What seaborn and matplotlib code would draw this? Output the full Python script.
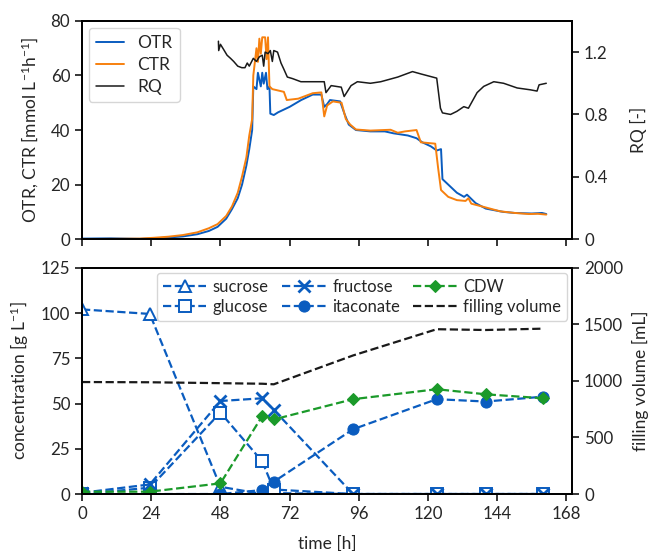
import numpy as np
import matplotlib
matplotlib.use('Agg')
import matplotlib.pyplot as plt
import seaborn as sns

sns.set_style('ticks')
plt.rcParams['font.family'] = ['Lato', 'DejaVu Sans']
plt.rcParams['mathtext.default'] = 'regular'
plt.rcParams['font.size'] = 12.5

# online off-gas data (top panel)
t_otr = [0, 10, 20, 25, 30, 35, 40, 44, 47, 50, 52, 54, 55.5, 57, 58, 59, 59.4, 60.5, 61, 62, 62.5, 63,
         63.8, 64.3, 65, 65.3, 66.5, 68, 72, 76, 80, 83, 84, 85, 86, 89.5, 91, 92.5, 95, 100, 105, 108,
         113, 116, 118, 121, 123, 124.5, 125, 127, 130, 132.5, 133.5, 136.5, 140, 146, 150, 156, 159.5, 161]
otr = [0.2, 0.3, 0.1, 0.3, 0.6, 1.0, 1.8, 3.0, 4.5, 7.5, 11, 15, 20, 27, 33, 40, 56, 55, 61, 56, 61, 57,
       61, 55, 56, 46, 45.5, 46.5, 48.5, 51, 53, 53, 48.5, 49.5, 51, 50.5, 46, 42, 40, 39.5, 39.5, 38.8,
       38, 37, 35.5, 34, 32.5, 33, 22, 20, 17, 15.5, 16.3, 13.2, 11.2, 10, 9.6, 9.4, 9.6, 9.2]

t_ctr = [0, 10, 20, 25, 30, 35, 40, 44, 47, 50, 52, 54, 55.5, 57, 58, 59, 59.4, 60.5, 61, 61.5, 62, 62.5,
         63.5, 64, 64.5, 65, 66, 68, 70, 71, 75, 80, 83, 84, 85, 87, 90, 91.5, 93, 95, 100, 107, 109.5,
         112, 116, 117.5, 122.5, 123.5, 124.5, 127, 130, 133, 134, 135, 139, 145, 150, 155, 158, 161]
ctr = [0.0, 0.1, 0.2, 0.5, 0.9, 1.5, 2.5, 4, 5.5, 8.5, 12, 17, 23, 30, 38, 44, 60, 70, 65, 73.5, 68, 74,
       74, 66, 74, 56, 55, 54.5, 54, 51, 51.5, 53.5, 53.8, 45, 49, 50.5, 50, 44, 42, 40.2, 39.8, 40.1, 39,
       39.5, 40, 35.5, 35, 26, 18, 15.5, 14.3, 14, 15, 13, 11.9, 10.2, 9.6, 9.2, 9.3, 9.0]

t_rq = [47.3, 47.4, 48, 49, 50.3, 51.5, 52.6, 54, 55.4, 56.5, 57.3, 58, 59.4, 60.5, 61.5, 62.5, 63, 63.5,
        64.5, 65.3, 66, 66.5, 67.8, 69, 70, 71.2, 73, 75.9, 80, 84, 84.6, 86.4, 89.9, 90.9, 93.3, 95.5, 100,
        103.6, 109.5, 114.6, 117.5, 123, 124.3, 125, 127.8, 130, 132.4, 134, 137, 139.3, 142.8, 146.2,
        150.9, 155.5, 157.8, 158.5, 161]
rq = [1.27, 1.21, 1.25, 1.22, 1.18, 1.16, 1.14, 1.11, 1.10, 1.10, 1.13, 1.11, 1.16, 1.14, 1.17, 1.18, 1.11,
      1.20, 1.19, 1.21, 1.14, 1.21, 1.20, 1.13, 1.09, 1.04, 1.03, 1.01, 1.01, 1.01, 0.94, 0.985, 0.975,
      0.915, 0.985, 1.01, 1.0, 1.01, 1.04, 1.075, 1.06, 1.033, 0.84, 0.81, 0.80, 0.82, 0.85, 0.84, 0.94,
      0.98, 1.01, 1.0, 0.97, 0.958, 0.95, 0.99, 1.0]

# offline samples (bottom panel)
t_s = [0, 23.5, 48, 62.5, 66.5, 94, 123, 140, 160]
sucrose = [102, 99.5, 4, 0, 0.5, 0, 0, 0, 0]
glucose = [0, 3.5, 45, 18, 2.5, 0, 0, 0, 0]
fructose = [0.7, 5.3, 51.4, 52.9, 46.5, 0, 0, 0, 0]
itaconate = [0, 0, 0, 2.2, 6.8, 35.8, 52.4, 51.1, 53.8]
cdw = [1.3, 1.3, 5.9, 43.1, 41.2, 52.4, 57.9, 55.1, 52.9]
volume = [990, 988, 980, 975, 970, 1225, 1457, 1450, 1462]

blue = '#0a5cbf'
orange = '#f7800e'
green = '#1b9a2a'

fig = plt.figure(figsize=(6.51, 5.51), dpi=100)
ax1 = fig.add_axes([0.126, 0.566, 0.753, 0.396])
ax2 = fig.add_axes([0.126, 0.1034, 0.753, 0.4106])

# --- top: OTR, CTR, RQ
sns.lineplot(x=t_otr, y=otr, ax=ax1, color=blue, lw=1.4, label='OTR', estimator=None)
sns.lineplot(x=t_ctr, y=ctr, ax=ax1, color=orange, lw=1.4, label='CTR', estimator=None)
ax1r = ax1.twinx()
sns.lineplot(x=t_rq, y=rq, ax=ax1r, color='#1a1a1a', lw=1.1, label='RQ', estimator=None)
ax1.set_xlim(0, 170)
ax1.set_ylim(0, 80)
ax1.set_yticks([0, 20, 40, 60, 80])
ax1.set_xticks(range(0, 169, 24))
ax1.set_xticklabels([])
ax1r.set_ylim(0, 1.4)
ax1r.set_yticks([0, 0.4, 0.8, 1.2])
ax1r.set_yticklabels(['0', '0.4', '0.8', '1.2'])
ax1.set_ylabel('OTR, CTR [mmol L$^{-1}$h$^{-1}$]', labelpad=7)
ax1r.set_ylabel('RQ [-]', labelpad=16)
ax1.get_legend().remove()
h1, l1 = ax1.get_legend_handles_labels()
h2, l2 = ax1r.get_legend_handles_labels()
ax1r.legend(h1 + h2, l1 + l2, loc='upper left', handlelength=1.6, borderaxespad=0.4,
            fontsize=12.5, labelspacing=0.35)

# --- bottom: concentrations and filling volume
dash = dict(ls='--', lw=1.6, estimator=None, markersize=8)
sns.lineplot(x=t_s, y=sucrose, ax=ax2, color=blue, marker='^', mfc='white', mec=blue, mew=1.4,
             label='sucrose', **dash)
sns.lineplot(x=t_s, y=glucose, ax=ax2, color=blue, marker='s', mfc='white', mec=blue, mew=1.4,
             label='glucose', **dash)
sns.lineplot(x=t_s, y=fructose, ax=ax2, color=blue, marker='x', mec=blue, mew=2,
             label='fructose', **dash)
sns.lineplot(x=t_s, y=itaconate, ax=ax2, color=blue, marker='o', mfc=blue, mec=blue,
             label='itaconate', **dash)
sns.lineplot(x=t_s, y=cdw, ax=ax2, color=green, marker='D', mfc=green, mec=green,
             label='CDW', ls='--', lw=1.6, estimator=None, markersize=6.5)
ax2r = ax2.twinx()
sns.lineplot(x=t_s, y=volume, ax=ax2r, color='#1a1a1a', ls='--', lw=1.6, label='filling volume',
             estimator=None)
ax2.set_xlim(0, 170)
ax2.set_ylim(0, 125)
ax2.set_yticks([0, 25, 50, 75, 100, 125])
ax2.set_xticks(range(0, 169, 24))
ax2r.set_ylim(0, 2000)
ax2r.set_yticks([0, 500, 1000, 1500, 2000])
ax2.set_xlabel('time [h]', labelpad=10)
ax2.set_ylabel('concentration [g L$^{-1}$]', labelpad=7)
ax2r.set_ylabel('filling volume [mL]', labelpad=6)
ax2.get_legend().remove()
h1, l1 = ax2.get_legend_handles_labels()
h2, l2 = ax2r.get_legend_handles_labels()
ax2r.legend(h1 + h2, l1 + l2, loc='upper right', ncol=3, handlelength=2.6, columnspacing=0.8,
            handletextpad=0.4, borderaxespad=0.3, labelspacing=0.25, fontsize=12,
            borderpad=0.35)

for ax in (ax1, ax1r, ax2, ax2r):
    for s in ax.spines.values():
        s.set_linewidth(1.3)
        s.set_color('black')
    ax.tick_params(width=1.3, length=5, labelsize=12.2)

fig.savefig('out.png', dpi=100)
